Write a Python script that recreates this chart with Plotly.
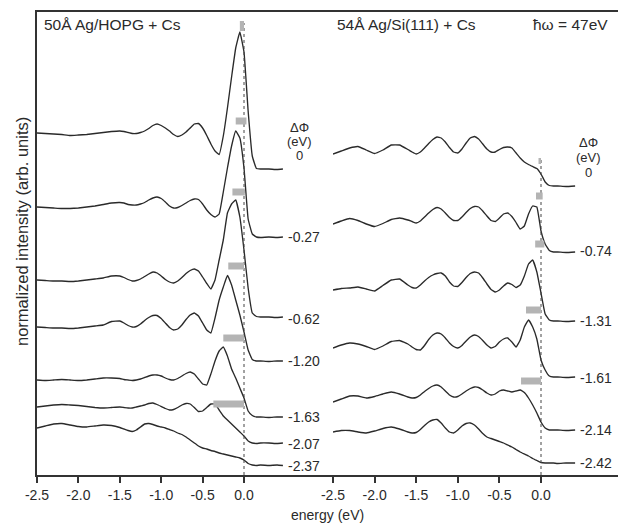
import plotly.graph_objects as go

# ---------------- data (energy in eV, intensity in arb. units) ----------------
E_left = [-2.5, -2.4, -2.3, -2.2, -2.1, -2.0, -1.9, -1.8, -1.7, -1.6,
          -1.5, -1.45, -1.4, -1.35, -1.3, -1.25, -1.2, -1.15, -1.1, -1.05,
          -1.0, -0.95, -0.9, -0.85, -0.8, -0.75, -0.7, -0.65, -0.6, -0.55,
          -0.5, -0.45, -0.4, -0.35, -0.3, -0.25, -0.2, -0.15, -0.1, -0.05,
          0.0, 0.05, 0.1, 0.15, 0.2, 0.3, 0.4, 0.47]

hopg_0 = [342, 341.5, 341, 340.5, 339.5, 340, 340.5, 341.5, 342.5, 343.5,
          344, 343.5, 342.5, 341.5, 341.5, 342.5, 344, 346.5, 349.5, 351,
          349.5, 347, 344, 340.5, 338.5, 340, 343, 347, 351, 351.5,
          347, 339.5, 331, 324, 320.5, 339, 367, 398, 427, 443,
          423, 364, 319, 306.5, 306, 306, 305.5, 306]
hopg_027 = [268, 267.5, 267, 266.5, 266.5, 267, 268, 269, 270.5, 272,
            272.5, 272, 270.5, 270, 270, 271, 272.5, 275, 277, 278,
            276.5, 273, 269, 267, 267.5, 269.5, 272, 274.5, 276, 275.5,
            271, 265, 260.5, 258, 261, 283, 307, 329, 344, 337,
            307, 256, 241, 238, 237.5, 238, 237.5, 238]
hopg_062 = [195, 194.5, 194, 194, 193.5, 194, 195, 196, 197, 199,
            199, 197.5, 195.5, 194, 194.5, 196, 198.5, 201, 203, 202,
            199, 195.5, 193, 192, 194, 197.5, 201.5, 204.5, 206, 204,
            198, 191.5, 186, 195, 215, 235, 262, 271, 275, 258,
            225, 187, 162, 158.5, 158, 158, 157.5, 158]
hopg_120 = [148, 147.5, 147, 147, 146.5, 147, 148, 149, 150, 153.5,
            154, 152, 149.5, 148, 148.5, 151, 154.5, 157.5, 159.5, 159.5,
            156.5, 152, 147.5, 145, 146, 150, 155.5, 160, 162, 159,
            152, 145, 142, 157, 175, 188, 199.5, 190, 175, 160,
            143, 125, 115.5, 114, 114, 113.5, 114, 114]
hopg_163 = [95, 94.5, 95, 95.5, 95, 94.5, 95, 96, 97, 97,
            96.5, 95.5, 95, 94.5, 95, 96, 97.5, 99, 100, 100,
            99, 97, 95.5, 95, 96.5, 99, 101.5, 103, 101, 96,
            91, 90, 101, 114, 124, 128, 119, 106, 97, 87,
            77, 64, 59.5, 58, 58, 57.5, 58, 58]
hopg_207 = [68, 69, 70, 70.5, 70, 69.5, 68.5, 67.5, 67, 67.5,
            68, 67.5, 67, 67, 68, 69, 70, 71.5, 72, 70.5,
            68.5, 66.5, 65, 65.5, 67.5, 70, 71.5, 71, 67.5, 63.5,
            64, 67.5, 71, 71, 65, 59, 55, 51, 47, 43,
            39, 34, 32, 31.5, 32, 32, 31.5, 32]
hopg_237 = [47, 49, 51, 51.5, 50, 48.5, 48, 49, 50, 49.5,
            47.5, 46, 44.5, 43.5, 45, 48, 51, 51.5, 50.5, 49,
            48, 47, 45.5, 44, 42, 40.5, 38, 35, 32, 29,
            27, 26, 24.5, 23.5, 22, 21, 20, 19, 18, 17,
            15, 11.5, 10, 9.5, 10, 9.5, 10, 9.5]

E_right = [-2.5, -2.4, -2.3, -2.2, -2.1, -2.0, -1.9, -1.8, -1.7, -1.6,
           -1.55, -1.5, -1.45, -1.4, -1.35, -1.3, -1.25, -1.2, -1.15, -1.1,
           -1.05, -1.0, -0.95, -0.9, -0.85, -0.8, -0.75, -0.7, -0.65, -0.6,
           -0.55, -0.5, -0.45, -0.4, -0.35, -0.3, -0.25, -0.2, -0.15, -0.1,
           -0.05, 0.0, 0.05, 0.1, 0.15, 0.2, 0.3, 0.41]

si_0 = [321, 324, 327, 328.5, 325, 321.5, 325, 330, 330, 325.5,
        323, 321, 323, 327, 331.5, 335.5, 338, 337, 333, 327.5,
        323, 322, 326, 332, 337, 338.5, 336, 331, 326, 323,
        323, 325.5, 327.5, 328, 327, 322, 317, 313, 310.5, 308.5,
        306.5, 301, 293, 289.5, 289, 289, 288.5, 289]
si_074 = [251, 254, 256.5, 254.5, 251, 248.5, 251.5, 255.5, 257, 255,
          253.5, 252, 254, 258, 262, 265.5, 267.5, 266, 262, 257.5,
          254.5, 254.5, 258, 262.5, 266.5, 268.5, 268, 264, 259, 254.5,
          253.5, 257, 261, 262, 258.5, 252.5, 246, 249, 261, 269,
          268, 244, 231, 224.5, 223, 223, 222.5, 223]
si_131 = [185, 186.5, 187, 188, 186, 184, 189.5, 195, 196, 190,
          187.5, 187, 190, 194, 197.5, 200, 201.5, 202, 199, 193,
          189, 188.5, 192.5, 197.5, 201.5, 203, 202, 197, 191, 185.5,
          183, 185, 189, 192, 190.5, 187.5, 190, 199, 211, 215,
          203, 182, 161, 155, 154, 154, 153.5, 154]
si_161 = [127, 130, 132, 131, 128.5, 125.5, 129, 133.5, 134.5, 131,
          128, 125.5, 125, 129.5, 135.5, 140, 142, 141, 137, 132,
          128.5, 127, 129.5, 134, 138, 140, 138.5, 134.5, 130, 127,
          128.5, 133, 136, 137, 133, 128, 135, 148, 155, 148,
          136, 115, 105, 99, 98, 98, 97.5, 98]
si_214 = [73, 76, 79, 79, 77, 78.5, 81, 83, 81, 78,
          77, 77.5, 80, 83.5, 86.5, 89, 90, 88, 84, 80,
          78, 78.5, 81, 84, 86.5, 88, 87.5, 85, 82, 80,
          81, 84, 85, 84, 83, 84, 85, 82.5, 77, 70,
          62, 53, 47, 45, 45, 45, 44.5, 45]
si_242 = [43, 44.5, 44.5, 43, 42, 44, 46.5, 48, 46, 43,
          42, 42.5, 45.5, 49.5, 53, 55, 55.5, 52, 47, 43,
          42, 45, 49, 51.5, 52, 50, 46, 41.5, 38, 36.5,
          35, 33.5, 32, 30, 28, 25.5, 23, 21, 19, 16.5,
          14.5, 12.5, 12, 12, 12, 11.5, 12, 12]

hopg_curves = [hopg_0, hopg_027, hopg_062, hopg_120, hopg_163, hopg_207, hopg_237]
si_curves = [si_0, si_074, si_131, si_161, si_214, si_242]

hopg_dphi = ["0", "-0.27", "-0.62", "-1.20", "-1.63", "-2.07", "-2.37"]
hopg_label_I = [None, 238, 156, 114, 58, 31, 9]
si_dphi = ["0", "-0.74", "-1.31", "-1.61", "-2.14", "-2.42"]
si_label_I = [None, 224, 154, 97, 45, 12]

# shift bars: start / end energy (eV), intensity level
hopg_bar_start = [-0.10, -0.14, -0.19, -0.25, -0.37]
hopg_bar_end = [0.03, 0.01, 0.0, 0.0, 0.0]
hopg_bar_level = [354, 283, 209, 137, 71]
si_bar_start = [-0.06, -0.07, -0.18, -0.24]
si_bar_end = [0.02, 0.04, 0.0, 0.0]
si_bar_level = [279, 231, 165, 94]
hopg_mark = [-0.05, 0.0, 449]
si_mark = [-0.03, 0.0, 314]

zero_line_top = [452, 318]

tick_vals = [-2.5, -2.0, -1.5, -1.0, -0.5, 0.0]
tick_text = ["-2.5", "-2.0", "-1.5", "-1.0", "-0.5", "0.0"]

# ---------------- figure ----------------
FONT = "Liberation Sans, Arial, Helvetica, sans-serif"
INK = "#2a2a2a"
fig = go.Figure()

def curve(xs, ys, xa):
    fig.add_trace(go.Scatter(x=xs, y=ys, mode="lines", xaxis=xa, yaxis="y",
                             line=dict(color=INK, width=1.35, shape="spline", smoothing=0.3),
                             hoverinfo="skip", showlegend=False))

for c in hopg_curves:
    curve(E_left, c, "x")
for c in si_curves:
    curve(E_right, c, "x2")

# dotted zero-energy lines
for xa, top in zip(["x", "x2"], zero_line_top):
    fig.add_trace(go.Scatter(x=[0, 0], y=[0, top], mode="lines", xaxis=xa, yaxis="y",
                             line=dict(color="#444", width=1, dash="dot"),
                             hoverinfo="skip", showlegend=False))

def bars(starts, ends, levels, xa, w):
    xs, ys = [], []
    for s, e, l in zip(starts, ends, levels):
        xs += [s, e, None]
        ys += [l, l, None]
    fig.add_trace(go.Scatter(x=xs, y=ys, mode="lines", xaxis=xa, yaxis="y",
                             line=dict(color="#b4b4b4", width=w),
                             hoverinfo="skip", showlegend=False))

bars(hopg_bar_start, hopg_bar_end, hopg_bar_level, "x", 7)
bars(si_bar_start, si_bar_end, si_bar_level, "x2", 7)
bars([hopg_mark[0]], [hopg_mark[1]], [hopg_mark[2]], "x", 10)
bars([si_mark[0]], [si_mark[1]], [si_mark[2]], "x2", 6)

# ---------------- layout ----------------
# the page body has an 8px default margin, so the figure is 8px smaller
split = 296 / 586
axis_common = dict(tickvals=tick_vals, ticktext=tick_text, ticks="outside", ticklen=6,
                   tickwidth=1.5, tickcolor="#333", showline=True, linewidth=2,
                   linecolor="#333", mirror=True, showgrid=False, zeroline=False,
                   tickfont=dict(family=FONT, size=14, color=INK), anchor="y",
                   fixedrange=True)
fig.update_layout(
    width=618, height=517,
    margin=dict(l=29, r=3, t=4, b=50),
    paper_bgcolor="white", plot_bgcolor="white",
    font=dict(family=FONT, color=INK),
    xaxis=dict(domain=[0, split], range=[-2.5, -2.5 + 296 / 82.8], **axis_common),
    xaxis2=dict(domain=[split, 1], range=[-2.5, -2.5 + 290 / 83.2], **axis_common),
    yaxis=dict(range=[0, 463], showticklabels=False, ticks="", showline=True,
               linewidth=1.5, linecolor="#333", showgrid=False, zeroline=False),
    showlegend=False,
)

fig.add_shape(type="line", xref="paper", yref="paper", x0=1, x1=1, y0=0, y1=1,
              line=dict(color="#bbbbbb", width=1.5))

ann = []
def A(text, x, y, xref="paper", yref="paper", size=14, xanchor="left", yanchor="middle", angle=0):
    ann.append(dict(text=text, x=x, y=y, xref=xref, yref=yref, showarrow=False,
                    xanchor=xanchor, yanchor=yanchor, textangle=angle,
                    font=dict(family=FONT, size=size, color=INK)))

A("50Å Ag/HOPG + Cs", 5 / 586, (475 - 24) / 463, size=15.5)
A("54Å Ag/Si(111) + Cs", 298 / 586, (475 - 24) / 463, size=15.5)
A("ħω = 47eV", 573 / 586, (475 - 24) / 463, size=15.5, xanchor="right")
A("normalized intensity (arb. units)", -15 / 586, (475 - 232) / 463, size=16.5,
  xanchor="center", angle=-90)
A("energy (eV)", 290 / 586, (475 - 515) / 463, size=14, xanchor="center")

# ΔΦ headers
for xa, xc, ys in [("x", 0.676, [348, 334, 320]), ("x2", 0.565, [333, 318, 303])]:
    for t, yv in zip(["ΔΦ", "(eV)", "0"], ys):
        A(t, xc, yv, xref=xa, yref="y", size=13, xanchor="center")

for t, yv in zip(hopg_dphi[1:], hopg_label_I[1:]):
    A(t, 0.505, yv, xref="x", yref="y", size=14)
for t, yv in zip(si_dphi[1:], si_label_I[1:]):
    A(t, 0.445, yv, xref="x2", yref="y", size=14)

fig.update_layout(annotations=ann)
fig.write_html("out.html")
